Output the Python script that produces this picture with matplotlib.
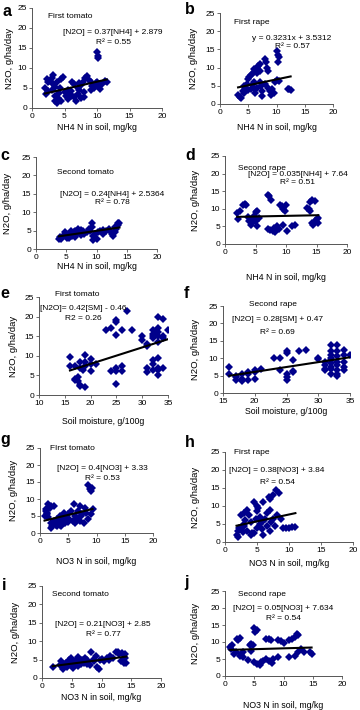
import numpy as np
import matplotlib
matplotlib.use("Agg")
import matplotlib.pyplot as plt

plt.rcParams['font.family'] = ['Liberation Sans', 'DejaVu Sans']

W, H = 360, 710

# ---- data ----
a_x = [2.0, 2.3, 2.5, 2.8, 3.0, 3.2, 3.3, 3.5, 3.0, 3.5, 3.6, 3.8, 4.0, 4.2, 4.5, 4.8, 4.3, 5.0, 5.2, 5.5,
       5.8, 6.0, 6.2, 6.5, 6.5, 6.8, 7.0, 7.0, 7.2, 7.3, 7.5, 7.5, 7.8, 8.0, 8.2, 8.5, 8.8, 9.0, 9.2, 9.5,
       9.8, 10.0, 10.1, 10.2, 10.0, 10.3, 10.5, 10.8, 11.2, 11.5, 2.5, 3.8, 5.5, 6.0, 8.0, 9.0, 4.5, 2.2]
a_y = [5.0, 7.3, 6.5, 6.8, 7.5, 8.2, 6.0, 5.2, 4.5, 3.0, 1.8, 1.2, 2.5, 3.8, 7.3, 7.8, 5.0, 4.0, 3.0, 2.2,
       3.5, 4.2, 6.5, 6.0, 2.8, 1.8, 3.5, 5.0, 6.2, 4.5, 2.5, 5.8, 6.5, 4.0, 7.5, 8.0, 7.0, 6.5, 5.5, 5.0,
       6.2, 14.0, 13.0, 12.5, 6.5, 5.5, 4.8, 6.0, 6.8, 6.5, 4.2, 6.5, 4.5, 3.0, 2.8, 4.5, 1.8, 3.5]

b_x = [3.2, 3.5, 3.7, 4.0, 4.2, 4.5, 4.8, 5.0, 5.2, 5.5, 5.8, 6.0, 6.2, 6.5, 6.8, 7.0, 5.0, 5.5, 6.0, 6.2,
       6.5, 7.0, 7.2, 7.5, 7.5, 8.0, 8.2, 8.3, 8.5, 8.0, 8.5, 8.8, 9.0, 9.2, 9.5, 9.8, 10.0, 10.2, 10.5, 10.2,
       10.0, 10.5, 12.0, 12.3, 12.5, 6.0, 6.5, 7.0, 5.8, 4.2]
b_y = [2.5, 2.0, 1.6, 3.5, 3.0, 4.0, 5.5, 7.0, 7.5, 8.0, 8.5, 9.5, 9.0, 10.0, 10.5, 11.0, 3.8, 4.0, 4.5, 3.0,
       4.5, 6.0, 5.0, 3.5, 2.2, 12.5, 11.5, 9.8, 9.0, 5.5, 4.5, 3.5, 2.5, 4.0, 3.0, 6.0, 14.5, 13.5, 13.0, 11.5,
       6.5, 6.2, 4.2, 4.0, 3.8, 6.0, 8.5, 9.0, 5.5, 5.0]

c_x = [3.8, 4.0, 4.2, 4.5, 4.8, 5.0, 5.2, 5.5, 5.5, 5.8, 6.0, 6.2, 6.5, 6.5, 6.8, 7.0, 7.2, 7.5, 7.5, 7.8,
       8.0, 8.5, 8.8, 9.0, 9.2, 9.3, 9.5, 9.5, 9.8, 10.0, 10.2, 10.5, 11.0, 11.5, 12.0, 12.2, 12.5, 12.8, 13.0, 13.2,
       13.5, 13.8, 13.5, 13.0, 11.0]
c_y = [2.6, 3.2, 2.8, 3.5, 4.5, 3.8, 2.9, 4.2, 3.0, 4.8, 3.5, 4.5, 5.0, 3.2, 4.0, 5.5, 4.5, 5.2, 3.8, 4.8,
       4.2, 4.5, 5.5, 5.0, 7.0, 6.0, 3.5, 2.5, 4.2, 2.8, 4.5, 5.0, 5.2, 4.8, 5.5, 4.8, 4.0, 3.5, 6.0, 5.5,
       7.0, 7.2, 6.5, 4.5, 4.2]

d_x = [2.0, 2.2, 2.5, 3.0, 3.2, 3.5, 3.8, 4.0, 4.2, 4.5, 4.5, 4.8, 5.0, 5.0, 5.2, 5.3, 5.5, 7.0, 7.2, 7.5,
       7.0, 7.3, 7.8, 8.0, 8.2, 8.5, 8.8, 9.0, 9.3, 9.5, 9.8, 9.5, 10.0, 10.2, 11.0, 11.5, 13.5, 13.8, 14.0, 14.3,
       14.0, 14.2, 14.5, 14.8, 15.0, 15.2, 15.3, 14.8]
d_y = [8.8, 7.0, 9.3, 11.2, 11.5, 11.0, 7.8, 6.5, 5.5, 6.0, 7.0, 8.0, 6.5, 9.0, 9.5, 5.0, 7.5, 13.8, 13.5, 12.5,
       4.2, 4.0, 3.8, 4.5, 3.5, 5.0, 4.2, 11.0, 10.8, 10.0, 9.5, 5.5, 11.0, 3.8, 5.2, 5.5, 10.2, 10.0, 12.0, 12.5,
       9.5, 6.0, 5.5, 6.5, 7.0, 6.0, 7.5, 12.2]

e_x = [16, 16, 17, 17, 17, 17.5, 17.5, 18, 18, 18, 18, 18.5, 19, 19, 19, 19, 20, 20, 20, 21,
       23, 24, 24, 25, 25, 25, 25, 25, 25, 26, 26, 26, 27, 28, 30, 30, 31, 31, 31, 31,
       32, 32, 32, 32, 32, 32, 32, 33, 33, 33, 33, 33, 33, 33, 33, 33, 34, 34, 34, 34, 35]
e_y = [9.8, 7.5, 7.5, 4.2, 3.8, 4.5, 3.5, 8.5, 7.0, 2.5, 2.2, 6.5, 10.2, 8.5, 7.5, 2.0, 9.2, 8.0, 6.2, 8.0,
       16.5, 17.0, 6.2, 19.2, 18.5, 15.2, 7.0, 6.2, 2.8, 16.5, 7.5, 6.2, 21.5, 16.5, 15.0, 14.0, 13.0, 12.5, 6.8, 5.8,
       16.5, 15.5, 15.0, 14.5, 9.0, 8.0, 6.5, 20.0, 17.0, 16.0, 15.0, 13.5, 9.5, 7.0, 6.5, 5.0, 19.5, 15.0, 14.5, 7.0, 16.5]

f_x = [16, 16, 17, 17, 17, 18, 18, 18, 19, 19, 19, 20, 20, 20, 21, 23, 24, 24, 25, 25,
       25, 25, 25, 26, 26, 26, 27, 28, 30, 30, 31, 31, 31, 31, 32, 32, 32, 32, 32, 32,
       32, 32, 32, 33, 33, 33, 33, 33, 33, 33, 33, 34, 34, 34, 34, 34, 35]
f_y = [7.5, 5.5, 5.0, 4.5, 3.8, 5.5, 4.0, 3.5, 6.0, 5.5, 3.8, 6.5, 6.0, 4.0, 7.0, 10.0, 10.2, 6.5, 12.2, 11.5,
       5.5, 4.5, 3.8, 9.5, 6.2, 6.0, 12.0, 12.5, 10.2, 9.8, 9.0, 8.0, 7.0, 6.5, 13.8, 12.0, 11.0, 10.0, 9.5, 8.5,
       7.5, 7.0, 5.5, 13.8, 12.0, 10.5, 9.0, 8.0, 6.5, 5.5, 5.0, 12.5, 11.0, 9.0, 7.5, 6.5, 11.0]

g_x = [0.8, 1.0, 1.0, 1.2, 1.5, 1.5, 1.8, 2.0, 2.0, 2.0, 2.2, 2.5, 2.5, 2.8, 3.0, 3.0, 3.2, 3.5, 3.5, 3.8,
       4.0, 4.2, 4.5, 4.5, 5.0, 5.0, 5.2, 5.5, 5.8, 6.0, 6.2, 6.2, 6.5, 6.8, 7.0, 7.0, 7.2, 7.5, 7.8, 8.0,
       8.2, 8.5, 8.8, 9.0, 9.2, 9.3, 9.0, 8.5, 1.2, 3.8]
g_y = [5.0, 6.5, 7.0, 5.5, 8.5, 4.8, 7.5, 8.0, 3.0, 1.5, 2.2, 7.8, 3.5, 2.5, 4.0, 2.0, 3.5, 2.5, 5.0, 3.5,
       4.0, 6.0, 2.8, 4.5, 3.2, 5.5, 4.0, 6.5, 3.5, 8.5, 5.0, 2.8, 4.2, 6.5, 8.0, 3.5, 5.0, 5.5, 3.0, 7.5,
       6.0, 14.2, 12.8, 12.5, 13.2, 7.0, 5.5, 4.0, 6.0, 2.2]

h_x = [1.8, 2.0, 2.0, 2.2, 2.5, 2.5, 2.8, 3.0, 3.0, 3.2, 3.5, 3.5, 3.8, 4.0, 4.2, 4.5, 4.5, 4.8, 5.0, 5.0,
       5.0, 5.2, 5.5, 5.5, 5.8, 6.0, 6.0, 6.2, 6.5, 6.5, 6.8, 7.0, 7.0, 7.0, 7.2, 7.5, 7.5, 7.8, 8.0, 8.2,
       8.5, 8.8, 9.0, 9.5, 10.0, 10.5, 11.0, 6.0, 3.0, 4.0]
h_y = [2.0, 3.0, 1.5, 4.0, 7.5, 3.5, 2.8, 8.0, 4.5, 6.0, 9.0, 3.0, 7.5, 5.5, 2.5, 11.0, 2.5, 6.5, 10.0, 8.5,
       4.0, 9.5, 7.0, 5.0, 3.5, 11.0, 2.0, 6.5, 8.0, 4.5, 12.5, 12.0, 9.0, 3.0, 5.5, 13.0, 6.5, 4.5, 14.5, 7.5,
       13.5, 6.5, 4.0, 4.0, 4.0, 4.2, 4.2, 5.8, 5.0, 2.0]

i_x = [1.8, 3.0, 3.2, 3.5, 3.8, 4.0, 4.2, 4.5, 4.8, 5.0, 5.0, 5.2, 5.5, 5.8, 6.0, 6.2, 6.5, 6.8, 7.0, 7.2,
       7.5, 8.0, 8.2, 8.5, 8.8, 9.0, 9.2, 9.5, 9.8, 10.0, 10.5, 11.0, 11.2, 11.5, 12.0, 12.5, 12.8, 13.0, 13.2, 13.5,
       13.8, 14.0, 14.2, 14.0, 6.0, 7.5]
i_y = [3.0, 3.5, 4.5, 2.5, 3.8, 4.2, 3.0, 5.0, 5.5, 3.5, 4.5, 2.8, 4.0, 5.2, 3.2, 4.5, 3.8, 5.0, 4.2, 5.5,
       4.8, 3.5, 7.2, 5.0, 4.5, 6.0, 3.0, 2.5, 4.8, 5.2, 4.5, 5.5, 4.8, 6.0, 5.5, 7.0, 7.2, 6.5, 4.5, 6.8,
       4.0, 6.5, 4.0, 5.5, 5.8, 3.8]

j_x = [0.8, 1.0, 1.2, 1.5, 1.8, 2.0, 2.2, 2.5, 2.5, 2.8, 3.0, 3.0, 4.0, 4.2, 4.5, 4.8, 5.0, 5.2, 5.5, 5.0,
       5.5, 6.0, 6.2, 6.5, 7.0, 7.5, 7.8, 7.0, 7.5, 8.0, 8.2, 9.0, 9.5, 10.0, 9.0, 11.0, 11.5, 12.0, 12.3, 12.5,
       11.0, 12.0, 12.5, 13.0, 13.5, 14.5, 14.8, 4.5]
j_y = [8.5, 8.0, 9.0, 6.5, 7.0, 11.0, 10.5, 11.2, 6.0, 6.5, 5.5, 7.0, 4.8, 9.0, 9.5, 9.0, 14.0, 13.0, 13.5, 4.0,
       3.5, 3.2, 4.0, 4.5, 11.0, 10.8, 10.5, 5.0, 4.5, 3.8, 5.0, 10.5, 10.2, 9.8, 5.5, 10.5, 11.0, 11.5, 12.5, 12.2,
       5.5, 6.0, 7.0, 8.0, 7.0, 7.0, 6.5, 7.5]

# regression coefficients printed on the panels
slopes = [0.37, 0.3231, 0.24, 0.035, 0.42, 0.28, 0.4, 0.38, 0.21, 0.05]
intercepts = [2.879, 3.5312, 2.5364, 7.64, -0.46, 0.47, 3.33, 3.84, 2.85, 7.634]

titles = ['First tomato', 'First rape', 'Second tomato', 'Second rape', 'First tomato',
          'Second rape', 'FIrst tomato', 'First rape', 'Second tomato', 'Second rape']
equations = ['[N2O] = 0.37[NH4] + 2.879', 'y = 0.3231x + 3.5312', '[N2O] = 0.24[NH4] + 2.5364',
             '[N2O] = 0.035[NH4] + 7.64', '[N2O]= 0.42[SM] - 0.46', '[N2O] = 0.28[SM] + 0.47',
             '[N2O] = 0.4[NO3] + 3.33', '[N2O] = 0.38[NO3] + 3.84', '[N2O] = 0.21[NO3] + 2.85',
             '[N2O] = 0.05[NO3] + 7.634']
r2 = ['R² = 0.55', 'R² = 0.57', 'R² = 0.78', 'R² = 0.51', 'R2 = 0.26',
      'R² = 0.69', 'R² = 0.53', 'R² = 0.54', 'R² = 0.77', 'R² = 0.54']
xlabels = ['NH4 N in soil, mg/kg'] * 4 + ['Soil moisture, g/100g'] * 2 + ['NO3 N in soil, mg/kg'] * 4
xlims = [(0, 20)] * 4 + [(10, 35), (15, 35)] + [(0, 20)] * 4
letters = list('abcdefghij')
xs = [a_x, b_x, c_x, d_x, e_x, f_x, g_x, h_x, i_x, j_x]
ys = [a_y, b_y, c_y, d_y, e_y, f_y, g_y, h_y, i_y, j_y]

# ---- layout (pixels) ----
boxes = [(32, 162, 8, 108), (220, 333, 13, 104), (36, 157, 157, 249), (225, 347, 156, 244),
         (39, 168, 297, 395), (223, 350, 306, 393), (40, 153, 448, 533), (225, 353, 452, 542),
         (42, 161, 586, 678), (225, 342, 591, 676)]
xlab_y = [127, 127, 266, 277, 420, 411, 560, 562, 697, 705]
ylab_x = [10, 193, 8, 195, 14, 195, 14, 195, 15, 195]
letter_pos = [(7, 12), (190, 10), (5, 155), (190, 155), (5, 294), (186, 293),
              (5, 440), (190, 443), (4, 585), (186, 583)]
title_pos = [(70, 17), (252, 22), (85, 172), (262, 168), (77, 295), (273, 305),
             (72, 448), (252, 452), (80, 595), (262, 595)]
eq_pos = [(113, 32), (292, 39), (112, 194), (298, 175), (83, 308), (277, 319),
          (102, 468), (277, 471), (103, 625), (283, 609)]
r2_pos = [(113, 43), (292, 47), (112, 202), (298, 183), (83, 318), (277, 332),
          (102, 478), (277, 482), (103, 635), (283, 619)]

fig = plt.figure(figsize=(W / 100, H / 100), dpi=100)
fig.patch.set_facecolor('white')


def ftext(px, py, s, **kw):
    fig.text(px / W, 1 - py / H, s, **kw)


for k in range(10):
    x0, x1, yt, yb = boxes[k]
    ax = fig.add_axes([x0 / W, 1 - yb / H, (x1 - x0) / W, (yb - yt) / H])
    ax.plot(xs[k], ys[k], 'D', color='#00008b', markersize=3.9, markeredgewidth=0)
    xx = np.array([min(xs[k]), max(xs[k])])
    ax.plot(xx, slopes[k] * xx + intercepts[k], color='black', lw=1.5)
    ax.set_xlim(*xlims[k])
    ax.set_ylim(0, 25)
    ax.set_xticks(np.arange(xlims[k][0], xlims[k][1] + 1, 5))
    ax.set_yticks(np.arange(0, 26, 5))
    for s in ['top', 'right']:
        ax.spines[s].set_visible(False)
    for s in ['left', 'bottom']:
        ax.spines[s].set_color('#555555')
        ax.spines[s].set_linewidth(0.7)
    ax.tick_params(labelsize=6, length=2, width=0.6, color='#555555', pad=1.5)
    ax.patch.set_alpha(0)

    ftext((x0 + x1) / 2, xlab_y[k] + 1, xlabels[k], ha='center', va='center', fontsize=6.3)
    ftext(ylab_x[k], (yt + yb) / 2, 'N2O, g/ha/day', ha='center', va='center',
          rotation=90, fontsize=6.8)
    ftext(*letter_pos[k], letters[k], ha='center', va='center', fontsize=11.5, fontweight='bold')
    ftext(*title_pos[k], titles[k], ha='center', va='center', fontsize=6)
    ftext(*eq_pos[k], equations[k], ha='center', va='center', fontsize=6)
    ftext(*r2_pos[k], r2[k], ha='center', va='center', fontsize=6)

fig.savefig('out.png', dpi=100)
